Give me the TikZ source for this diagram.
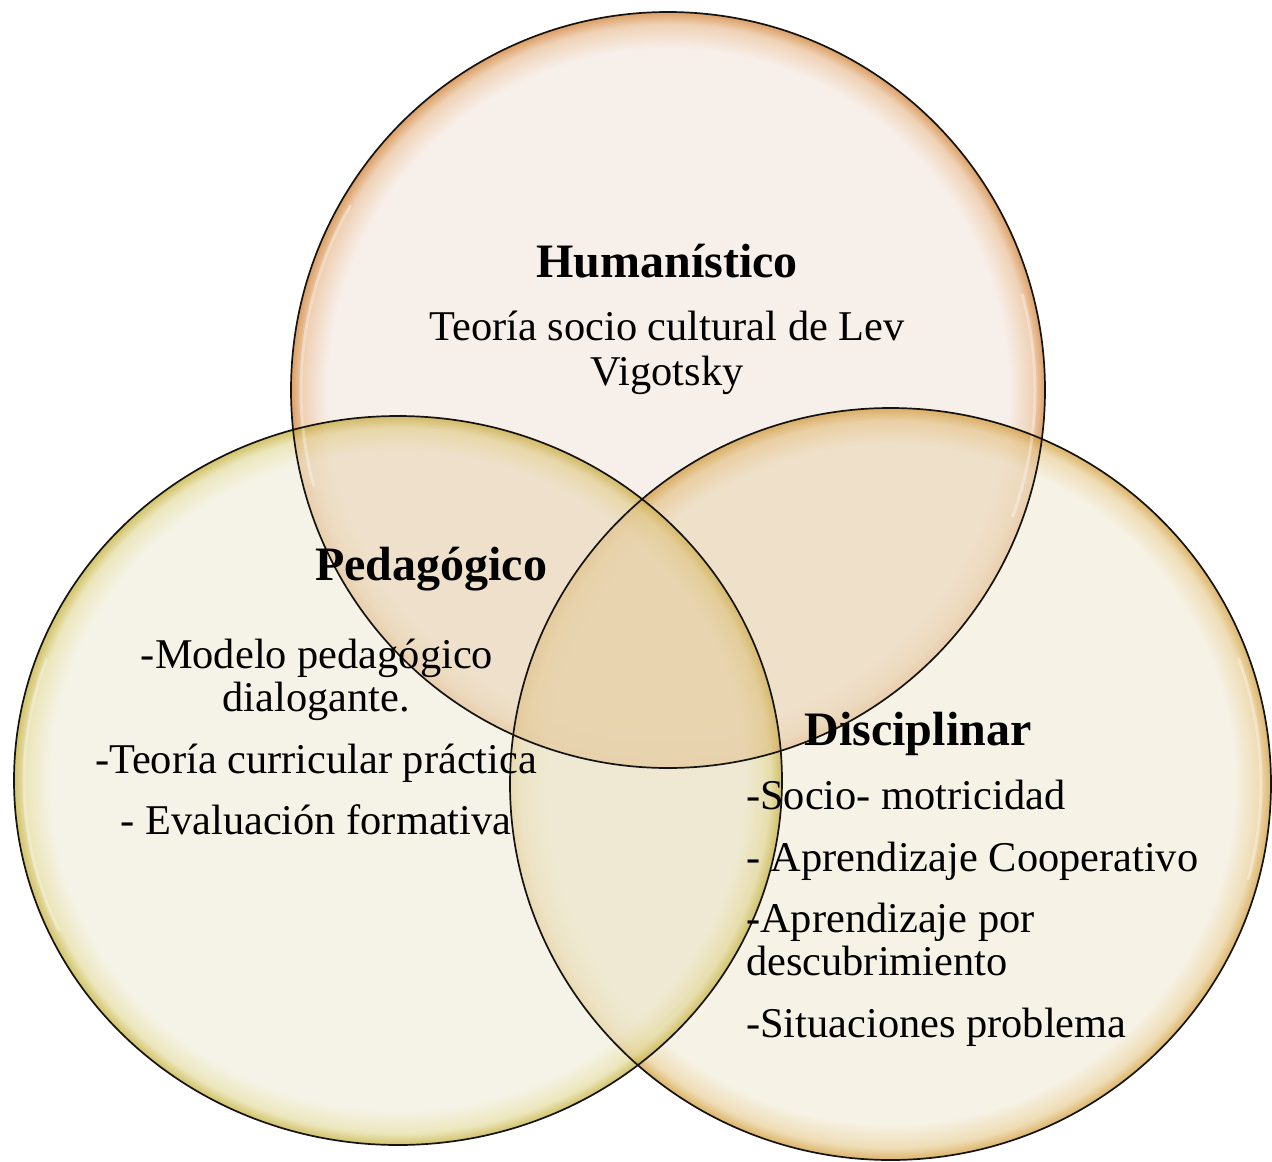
\documentclass[tikz,border=0pt]{standalone}
\usepackage{fontspec}
\setmainfont{Liberation Serif}
\definecolor{topin}{RGB}{244,232,224}
\definecolor{topmid}{RGB}{232,190,150}
\definecolor{toprim}{RGB}{205,118,35}
\definecolor{leftin}{RGB}{241,238,221}
\definecolor{leftmid}{RGB}{228,220,160}
\definecolor{leftrim}{RGB}{190,168,40}
\definecolor{rightin}{RGB}{242,236,218}
\definecolor{rightmid}{RGB}{232,206,150}
\definecolor{rightrim}{RGB}{205,148,40}
\definecolor{tintA}{RGB}{225,175,120}
\definecolor{tintB}{RGB}{225,205,140}
\pgfdeclareradialshading{topshade}{\pgfpoint{0bp}{0bp}}{color(0bp)=(topin); color(22.6bp)=(topin); color(24.2bp)=(topmid); color(25bp)=(toprim); color(50bp)=(toprim)}
\pgfdeclareradialshading{leftshade}{\pgfpoint{0bp}{0bp}}{color(0bp)=(leftin); color(22.6bp)=(leftin); color(24.2bp)=(leftmid); color(25bp)=(leftrim); color(50bp)=(leftrim)}
\pgfdeclareradialshading{rightshade}{\pgfpoint{0bp}{0bp}}{color(0bp)=(rightin); color(22.6bp)=(rightin); color(24.2bp)=(rightmid); color(25bp)=(rightrim); color(50bp)=(rightrim)}
\tikzset{
  body/.style={inner sep=0pt, anchor=base, font=\fontsize{42.4bp}{44bp}\selectfont},
  bodyL/.style={body, anchor=base west},
  head/.style={inner sep=0pt, anchor=base, font=\fontsize{48bp}{50bp}\selectfont\bfseries},
  rimline/.style={draw=black!92, line width=1.7bp},
  gloss/.style={white, line width=3bp, opacity=0.35, line cap=round}
}
\begin{document}
\begin{tikzpicture}[x=1bp,y=-1bp]
\useasboundingbox (0,0) rectangle (1272,1162);
% fills
\shade[shading=topshade, fill opacity=0.7] (668,390) ellipse [x radius=377, y radius=378];
\shade[shading=rightshade, fill opacity=0.7] (890.5,784) ellipse [x radius=380.5, y radius=376];
\shade[shading=leftshade, fill opacity=0.7] (398,780.5) ellipse [x radius=384, y radius=364.5];
% overlap tints
\begin{scope}
  \clip (668,390) ellipse [x radius=377, y radius=378];
  \fill[tintA, opacity=0.2] (398,780.5) ellipse [x radius=384, y radius=364.5];
  \fill[tintA, opacity=0.2] (890.5,784) ellipse [x radius=380.5, y radius=376];
\end{scope}
\begin{scope}
  \clip (398,780.5) ellipse [x radius=384, y radius=364.5];
  \fill[tintB, opacity=0.15] (890.5,784) ellipse [x radius=380.5, y radius=376];
\end{scope}
% gloss highlights
\draw[gloss] (668,390) ++(165:367 and 368) arc[start angle=165, end angle=210, x radius=367, y radius=368];
\draw[gloss] (668,390) ++(-15:367 and 368) arc[start angle=-15, end angle=20, x radius=367, y radius=368];
\draw[gloss] (398,780.5) ++(155:374 and 354.5) arc[start angle=155, end angle=200, x radius=374, y radius=354.5];
\draw[gloss] (890.5,784) ++(-20:370.5 and 366) arc[start angle=-20, end angle=15, x radius=370.5, y radius=366];
% outlines
\draw[rimline] (668,390) ellipse [x radius=377, y radius=378];
\draw[rimline] (890.5,784) ellipse [x radius=380.5, y radius=376];
\draw[rimline] (398,780.5) ellipse [x radius=384, y radius=364.5];
% texts: top
\node[head] (hum) at (667,277) {Humanístico};
\node[body] (hum1) at (667,340) {Teoría socio cultural de Lev};
\node[body] (hum2) at (667,385) {Vigotsky};
% left
\node[head] (ped) at (431,580) {Pedagógico};
\node[body] (ped1) at (317,668) {-Modelo pedagógico};
\node[body] (ped2) at (316,711) {dialogante.};
\node[body] (ped3) at (316,773) {-Teoría curricular práctica};
\node[body] (ped4) at (316,834) {- Evaluación formativa};
% right
\node[head] (dis) at (918,745) {Disciplinar};
\node[bodyL] (dis1) at (746,809) {-Socio- motricidad};
\node[bodyL] (dis2) at (746,871) {- Aprendizaje Cooperativo};
\node[bodyL] (dis3) at (746,932) {-Aprendizaje por};
\node[bodyL] (dis4) at (746,975) {descubrimiento};
\node[bodyL] (dis5) at (746,1037) {-Situaciones problema};
\end{tikzpicture}
\end{document}
